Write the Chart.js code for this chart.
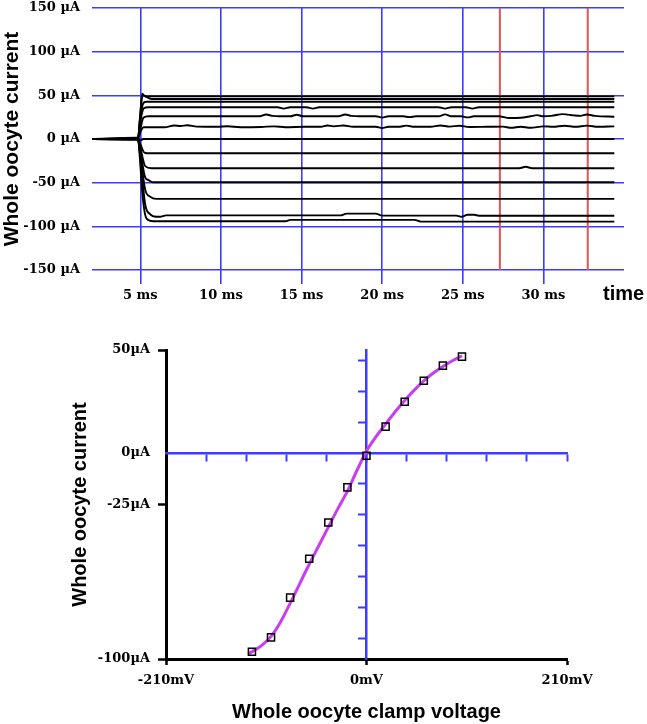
<!DOCTYPE html>
<html><head><meta charset="utf-8">
<script src="https://cdn.jsdelivr.net/npm/chart.js@4.4.1/dist/chart.umd.min.js"></script>
<style>
html,body{margin:0;padding:0;background:#fff;width:647px;height:724px;overflow:hidden}
canvas{position:absolute;left:0}
#c1{top:0}
#c2{top:320px}
</style></head><body>
<canvas id="c1" width="647" height="305"></canvas>
<canvas id="c2" width="647" height="404"></canvas>
<script>
// ---------- Top panel: current traces ----------
const timeTicks = [5, 10, 15, 20, 25, 30];            // ms
const currentTicks = [-150, -100, -50, 0, 50, 100, 150]; // µA
const redCursorTimes = [27.3, 32.75];                  // ms

const tA = [2, 4.85, 5.0, 5.12, 5.3, 34.4];
const vA = [0, 0.5, 30, 52, 48.8, 48.8];
const tB = [2, 4.85, 5.0, 5.12, 5.7, 34.4];
const vB = [0, 0.5, 28, 50, 45.8, 45.8];
const tC = [2, 4.85, 5.0, 5.2, 5.4, 34.4];
const vC = [0, 0.5, 25, 41.5, 42.7, 42.7];
const tD = [2, 4.85, 5.0, 5.2, 5.5, 13.5, 13.9, 14.3, 15.3, 15.7, 16.1, 23.5, 23.9, 24.3, 25.2, 25.6, 26.0, 34.4];
const vD = [0, 0.5, 20, 35, 36.3, 36.3, 34.8, 36.3, 36.3, 34.8, 36.3, 36.3, 34.8, 36.3, 36.3, 34.8, 36.3, 36.3];
const tE = [2, 4.85, 5.0, 5.2, 5.5, 12.4, 12.8, 13.2, 13.6, 14.3, 14.7, 15.1, 16.5, 17.3, 17.7, 18.1, 18.6, 19.6, 20.0, 20.4, 21.3, 21.7, 22.1, 23.5, 23.9, 24.3, 24.9, 25.3, 25.7, 27.2, 27.9, 28.6, 29.2, 29.6, 30.0, 30.5, 31.2, 31.9, 32.3, 32.7, 33.2, 34.4];
const vE = [0, 0.3, 12, 24.5, 26, 26, 28, 26.5, 26, 26, 27.8, 26, 26, 26, 28, 26.5, 26, 26, 24.5, 26, 26, 25, 26, 26, 28.2, 26, 26, 24.8, 26, 26, 24, 24.3, 26, 27.3, 26, 26.5, 28.5, 27, 26.5, 28, 26.5, 25.5];
const tF = [2, 4.85, 5.0, 5.2, 5.5, 6.5, 7.1, 7.5, 7.9, 8.5, 9.8, 10.4, 11.2, 12.5, 13.3, 14.0, 15.2, 16.2, 16.6, 17.0, 17.6, 18.2, 19.6, 20.0, 20.4, 21.0, 21.5, 22.0, 23.0, 23.6, 24.2, 24.8, 25.4, 26.5, 27.5, 28.0, 28.6, 29.2, 30.0, 30.6, 31.3, 32.0, 32.7, 33.4, 34.4];
const vF = [0, 0.3, 8, 13.5, 13.5, 13.5, 15.5, 14.8, 15.8, 14.2, 14, 14.6, 13.5, 13.8, 14.5, 13.5, 14, 14, 15.5, 14.5, 15.5, 14, 14, 12.5, 14, 14, 15.3, 14, 14, 15.5, 14.2, 15.2, 13.8, 14, 14.2, 12.8, 14, 12.8, 14.5, 14, 15.2, 14, 15.3, 14, 14.5];
const tG = [2, 4.8, 5.0, 5.2, 34.4];
const vG = [0, 1.5, -1.5, 0, 0];
const tH = [2, 4.85, 5.0, 5.25, 5.6, 34.4];
const vH = [0, -0.3, -6, -15.5, -16.4, -16.4];
const tI = [2, 4.85, 5.0, 5.3, 5.7, 28.5, 28.9, 29.3, 34.4];
const vI = [0, -0.3, -10, -31, -33.5, -33.5, -31.8, -33.5, -33.5];
const tJ = [2, 4.85, 5.0, 5.3, 5.5, 5.8, 34.4];
const vJ = [0, -0.3, -14, -44, -47, -49.6, -49.6];
const tK = [2, 4.85, 5.0, 5.3, 5.6, 6.0, 34.4];
const vK = [0, -0.3, -18, -58, -66, -68.6, -68.6];
const tL = [2, 4.85, 5.0, 5.3, 5.6, 6.0, 6.2, 6.6, 17.4, 17.8, 19.6, 20.0, 24.6, 24.9, 25.3, 25.7, 26.0, 34.4];
const vL = [0, -0.3, -22, -75, -86, -89, -89, -87.5, -87.5, -85.5, -85.5, -87.7, -87.7, -89, -86.8, -86.8, -87.8, -87.8];
const tM = [2, 4.85, 5.0, 5.1, 5.25, 5.4, 5.8, 14.0, 14.3, 22.0, 22.4, 34.4];
const vM = [0, -0.3, -30, -57, -82, -91.5, -94.2, -94.2, -92.6, -92.6, -94.6, -94.6];

const traceTimes = [tA, tB, tC, tD, tE, tF, tG, tH, tI, tJ, tK, tL, tM];
const traceValues = [vA, vB, vC, vD, vE, vF, vG, vH, vI, vJ, vK, vL, vM];

// ---------- Bottom panel: I-V relation ----------
const ivVoltage = [-120, -100, -80, -60, -40, -20, 0, 20, 40, 60, 80, 100];     // mV
const ivCurrent = [-96.5, -89.5, -70.2, -51.3, -33.7, -16.7, -1.3, 12.8, 24.9, 35.1, 42.4, 46.8]; // µA
const fitVoltage = [-124, -110, -100, -90, -80, -70, -60, -50, -40, -30, -20, -10, 0, 10, 20, 30, 40, 50, 60, 70, 80, 90, 100];
const fitCurrent = [-97.6, -93.5, -89, -82, -73, -63.5, -54, -45, -36, -27, -18.5, -8.5, 1, 8, 14, 20, 25.5, 30.5, 35, 38.8, 42, 44.8, 47.2];
const outerXTicks = [-210, 0, 210];
const outerYTicks = [50, 0, -25, -100];
const innerXTicks = [-168, -126, -84, -42, 0, 42, 84, 126, 168, 210];
const innerYTicks = [45, 30, 15, -15, -30, -45, -60, -75, -90];

const BLUE = '#3c3cff';
const RED = '#e05454';
const MAGENTA = '#c93cf2';
const serifBold = {family: '"DejaVu Serif", serif', weight: 'bold', size: 13};
const sansTitle = (s) => ({family: '"Liberation Sans", Arial, sans-serif', weight: 'bold', size: s, lineHeight: 1.2});
const noPad = s => { s.paddingTop = 0; s.paddingBottom = 0; s.paddingLeft = 0; s.paddingRight = 0; };

const traceSets = traceTimes.map((ts, i) => ({
  data: ts.map((t, j) => ({x: t, y: traceValues[i][j]})),
  borderColor: '#000', borderWidth: 1.9, pointRadius: 0,
  cubicInterpolationMode: 'monotone', fill: false
}));
const redSets = redCursorTimes.map(t => ({
  data: [{x: t, y: currentTicks[0]}, {x: t, y: currentTicks[currentTicks.length - 1]}],
  borderColor: RED, borderWidth: 2, pointRadius: 0, fill: false
}));

const timeLabel = {
  id: 'timeLabel',
  afterDraw(chart) {
    const ctx = chart.ctx;
    ctx.save();
    ctx.font = 'bold 20px "Liberation Sans", Arial, sans-serif';
    ctx.fillStyle = '#000';
    ctx.textBaseline = 'alphabetic';
    ctx.textAlign = 'left';
    ctx.fillText('time', 603, 299.5);
    ctx.restore();
  }
};

new Chart(document.getElementById('c1'), {
  type: 'line',
  data: {datasets: traceSets.concat(redSets)},
  options: {
    responsive: false, animation: false, events: [],
    layout: {padding: {left: 0, right: 23, top: 8, bottom: 0}},
    plugins: {legend: {display: false}, tooltip: {enabled: false}},
    scales: {
      x: {
        type: 'linear', min: 2, max: 35,
        afterBuildTicks: s => { s.ticks = timeTicks.map(v => ({value: v})); },
        afterFit: s => { s.height = 35; noPad(s); },
        ticks: {callback: v => v + ' ms', font: serifBold, color: '#000', padding: 4, maxRotation: 0, autoSkip: false},
        grid: {color: BLUE, lineWidth: 1.6, drawTicks: true, tickLength: 14, tickColor: BLUE, tickWidth: 1.6},
        border: {display: false}
      },
      y: {
        type: 'linear', min: -150, max: 150,
        afterBuildTicks: s => { s.ticks = currentTicks.map(v => ({value: v})); },
        afterFit: s => { s.width = 92; noPad(s); },
        ticks: {callback: v => v + ' µA', font: serifBold, color: '#000', padding: 12},
        grid: {color: BLUE, lineWidth: 1.6, drawTicks: false},
        border: {display: false},
        title: {display: true, text: 'Whole oocyte current', font: sansTitle(21), color: '#000', padding: 0}
      }
    }
  },
  plugins: [timeLabel]
});

new Chart(document.getElementById('c2'), {
  type: 'line',
  data: {datasets: [
    {
      data: ivVoltage.map((v, i) => ({x: v, y: ivCurrent[i]})),
      showLine: false, pointStyle: 'rect', pointRadius: 5,
      pointBorderColor: '#000', pointBackgroundColor: 'rgba(255,255,255,0)', pointBorderWidth: 1.5,
      xAxisID: 'x', yAxisID: 'y'
    },
    {
      data: fitVoltage.map((v, i) => ({x: v, y: fitCurrent[i]})),
      borderColor: MAGENTA, borderWidth: 3, pointRadius: 0,
      cubicInterpolationMode: 'monotone', fill: false,
      xAxisID: 'x', yAxisID: 'y'
    }
  ]},
  options: {
    responsive: false, animation: false, events: [],
    layout: {padding: {left: 68, right: 80, top: 30, bottom: 0}},
    plugins: {legend: {display: false}, tooltip: {enabled: false}},
    scales: {
      x: {
        type: 'linear', position: 'bottom', min: -210, max: 210,
        afterBuildTicks: s => { s.ticks = outerXTicks.map(v => ({value: v})); },
        afterFit: s => { s.height = 65; noPad(s); },
        ticks: {callback: v => v + 'mV', font: serifBold, color: '#000', padding: 8, maxRotation: 0, autoSkip: false},
        grid: {drawOnChartArea: false, drawTicks: true, tickLength: 6, tickColor: '#000', tickWidth: 2.5},
        border: {color: '#000', width: 3},
        title: {display: true, text: 'Whole oocyte clamp voltage', font: sansTitle(20), color: '#000', padding: 0}
      },
      y: {
        type: 'linear', position: 'left', min: -100, max: 50,
        afterBuildTicks: s => { s.ticks = outerYTicks.map(v => ({value: v})); },
        afterFit: s => { s.width = 98; noPad(s); },
        ticks: {callback: v => v + 'µA', font: serifBold, color: '#000', padding: 8, autoSkip: false},
        grid: {drawOnChartArea: false, drawTicks: true, tickLength: 8, tickWidth: 2.5,
               tickColor: c => (c.tick && c.tick.value === 0) ? 'rgba(0,0,0,0)' : '#000'},
        border: {color: '#000', width: 3},
        title: {display: true, text: 'Whole oocyte current', font: sansTitle(20), color: '#000', padding: 0}
      },
      xb: {
        type: 'linear', axis: 'x', position: {y: 0}, min: -210, max: 210,
        afterBuildTicks: s => { s.ticks = innerXTicks.map(v => ({value: v})); },
        afterFit: noPad,
        ticks: {display: false},
        grid: {drawOnChartArea: false, drawTicks: true, tickLength: 7, tickColor: BLUE, tickWidth: 2},
        border: {color: BLUE, width: 2.5}
      },
      yb: {
        type: 'linear', axis: 'y', position: {x: 0}, min: -100, max: 50,
        afterBuildTicks: s => { s.ticks = innerYTicks.map(v => ({value: v})); },
        afterFit: noPad,
        ticks: {display: false},
        grid: {drawOnChartArea: false, drawTicks: true, tickLength: 7, tickColor: BLUE, tickWidth: 2},
        border: {color: BLUE, width: 2.5}
      }
    }
  }
});
</script>
</body></html>
